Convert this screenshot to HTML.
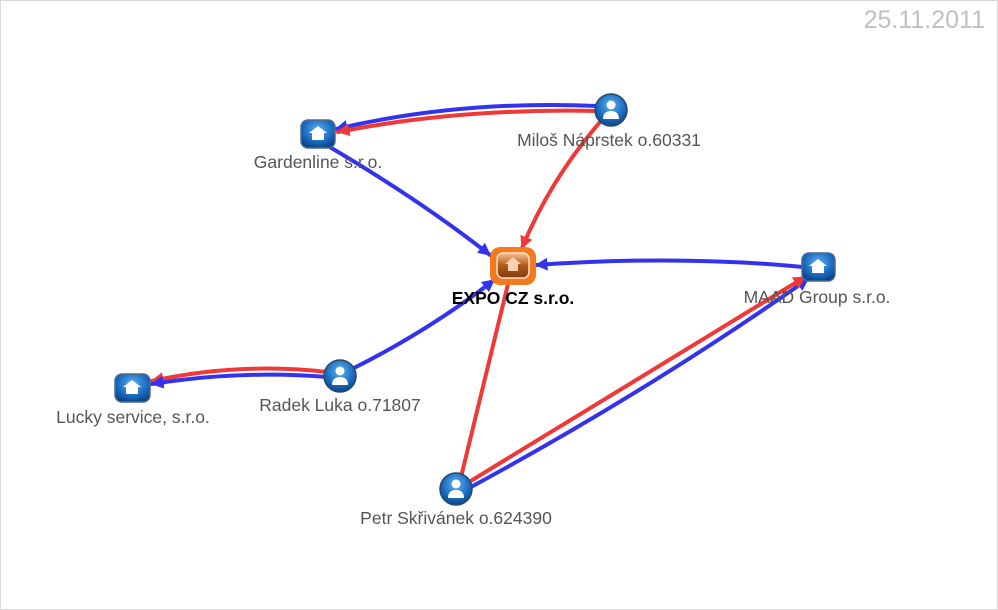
<!DOCTYPE html>
<html><head><meta charset="utf-8"><style>
html,body{margin:0;padding:0;background:#fff}
svg{display:block}
text{font-family:"Liberation Sans",sans-serif}
</style></head><body>
<svg width="998" height="610" viewBox="0 0 998 610" xmlns="http://www.w3.org/2000/svg">
<defs>
<marker id="ab" viewBox="0 0 10 10" refX="9" refY="5" markerWidth="3.2" markerHeight="3.2" orient="auto"><path d="M0,0L10,5L0,10z" fill="#3333ee"/></marker>
<marker id="ar" viewBox="0 0 10 10" refX="9" refY="5" markerWidth="3.2" markerHeight="3.2" orient="auto"><path d="M0,0L10,5L0,10z" fill="#f03838"/></marker>
<radialGradient id="bl" cx="50%" cy="35%" r="70%"><stop offset="0" stop-color="#5fb0f0"/><stop offset="0.6" stop-color="#1a6cc0"/><stop offset="1" stop-color="#0a3d80"/></radialGradient>
<linearGradient id="or" x1="0" y1="0" x2="0" y2="1"><stop offset="0" stop-color="#f9c090"/><stop offset="0.5" stop-color="#b35a1a"/><stop offset="1" stop-color="#7a3a10"/></linearGradient>
</defs>
<rect x="0.5" y="0.5" width="997" height="609" fill="#fff" stroke="#d8d8d8"/>
<text x="985" y="28" text-anchor="end" font-size="25" fill="#c0c0c0">25.11.2011</text>
<g fill="none" stroke-width="4" stroke-linecap="round">
<path d="M597,106 Q460,100 336,129" stroke="#3333ee" marker-end="url(#ab)"/>
<path d="M597,111 Q460,108 338,132" stroke="#f03838" marker-end="url(#ar)"/>
<path d="M600,122 Q550,180 522,248" stroke="#f03838" marker-end="url(#ar)"/>
<path d="M328,146 Q420,200 490,255" stroke="#3333ee" marker-end="url(#ab)"/>
<path d="M803,267 Q680,255 536,265" stroke="#3333ee" marker-end="url(#ab)"/>
<path d="M352,369 Q430,330 494,280" stroke="#3333ee" marker-end="url(#ab)"/>
<path d="M327,372 Q240,362 152,381" stroke="#f03838" marker-end="url(#ar)"/>
<path d="M327,377 Q240,370 152,384" stroke="#3333ee" marker-end="url(#ab)"/>
<path d="M508,284 Q485,380 461,477" stroke="#f03838"/>
<path d="M471,487 Q650,390 808,279" stroke="#3333ee" marker-end="url(#ab)"/>
<path d="M469,482 Q640,378 805,277" stroke="#f03838" marker-end="url(#ar)"/>
</g>
<g stroke-width="1.5">
<rect x="301" y="120" width="34" height="28" rx="7" fill="url(#bl)" stroke="#4a6a90"/>
<rect x="802" y="253" width="33" height="28" rx="7" fill="url(#bl)" stroke="#4a6a90"/>
<rect x="115" y="374" width="35" height="28" rx="7" fill="url(#bl)" stroke="#4a6a90"/>
</g>
<g fill="#fff">
<path d="M318,126 l-9,7 h3 v7 h12 v-7 h3z"/>
<path d="M818,259 l-9,7 h3 v7 h12 v-7 h3z"/>
<path d="M132,380 l-9,7 h3 v7 h12 v-7 h3z"/>
</g>
<rect x="490" y="247" width="46" height="38" rx="10" fill="#f47a20"/>
<rect x="497" y="253" width="32" height="25" rx="6" fill="url(#or)" stroke="#fce0c8" stroke-width="1.5"/>
<path d="M513,257 l-8,7 h3 v7 h10 v-7 h3z" fill="#fcd0b0"/>
<g>
<circle cx="611" cy="110" r="16" fill="url(#bl)" stroke="#28496e" stroke-width="1.5"/>
<circle cx="340" cy="376" r="16" fill="url(#bl)" stroke="#28496e" stroke-width="1.5"/>
<circle cx="456" cy="489" r="16" fill="url(#bl)" stroke="#28496e" stroke-width="1.5"/>
</g>
<g fill="#fff">
<circle cx="611" cy="105" r="4.5"/><path d="M603,119 q0,-8 8,-8 q8,0 8,8z"/>
<circle cx="340" cy="371" r="4.5"/><path d="M332,385 q0,-8 8,-8 q8,0 8,8z"/>
<circle cx="456" cy="484" r="4.5"/><path d="M448,498 q0,-8 8,-8 q8,0 8,8z"/>
</g>
<g font-size="17.5" fill="#555">
<text x="318" y="168" text-anchor="middle">Gardenline s.r.o.</text>
<text x="609" y="146" text-anchor="middle">Miloš Náprstek o.60331</text>
<text x="817" y="303" text-anchor="middle">MAAD Group s.r.o.</text>
<text x="340" y="411" text-anchor="middle">Radek Luka o.71807</text>
<text x="133" y="423" text-anchor="middle">Lucky service, s.r.o.</text>
<text x="456" y="524" text-anchor="middle">Petr Skřivánek o.624390</text>
</g>
<text x="513" y="304" text-anchor="middle" font-size="17.5" font-weight="bold" fill="#000">EXPO CZ s.r.o.</text>
</svg>
</body></html>
